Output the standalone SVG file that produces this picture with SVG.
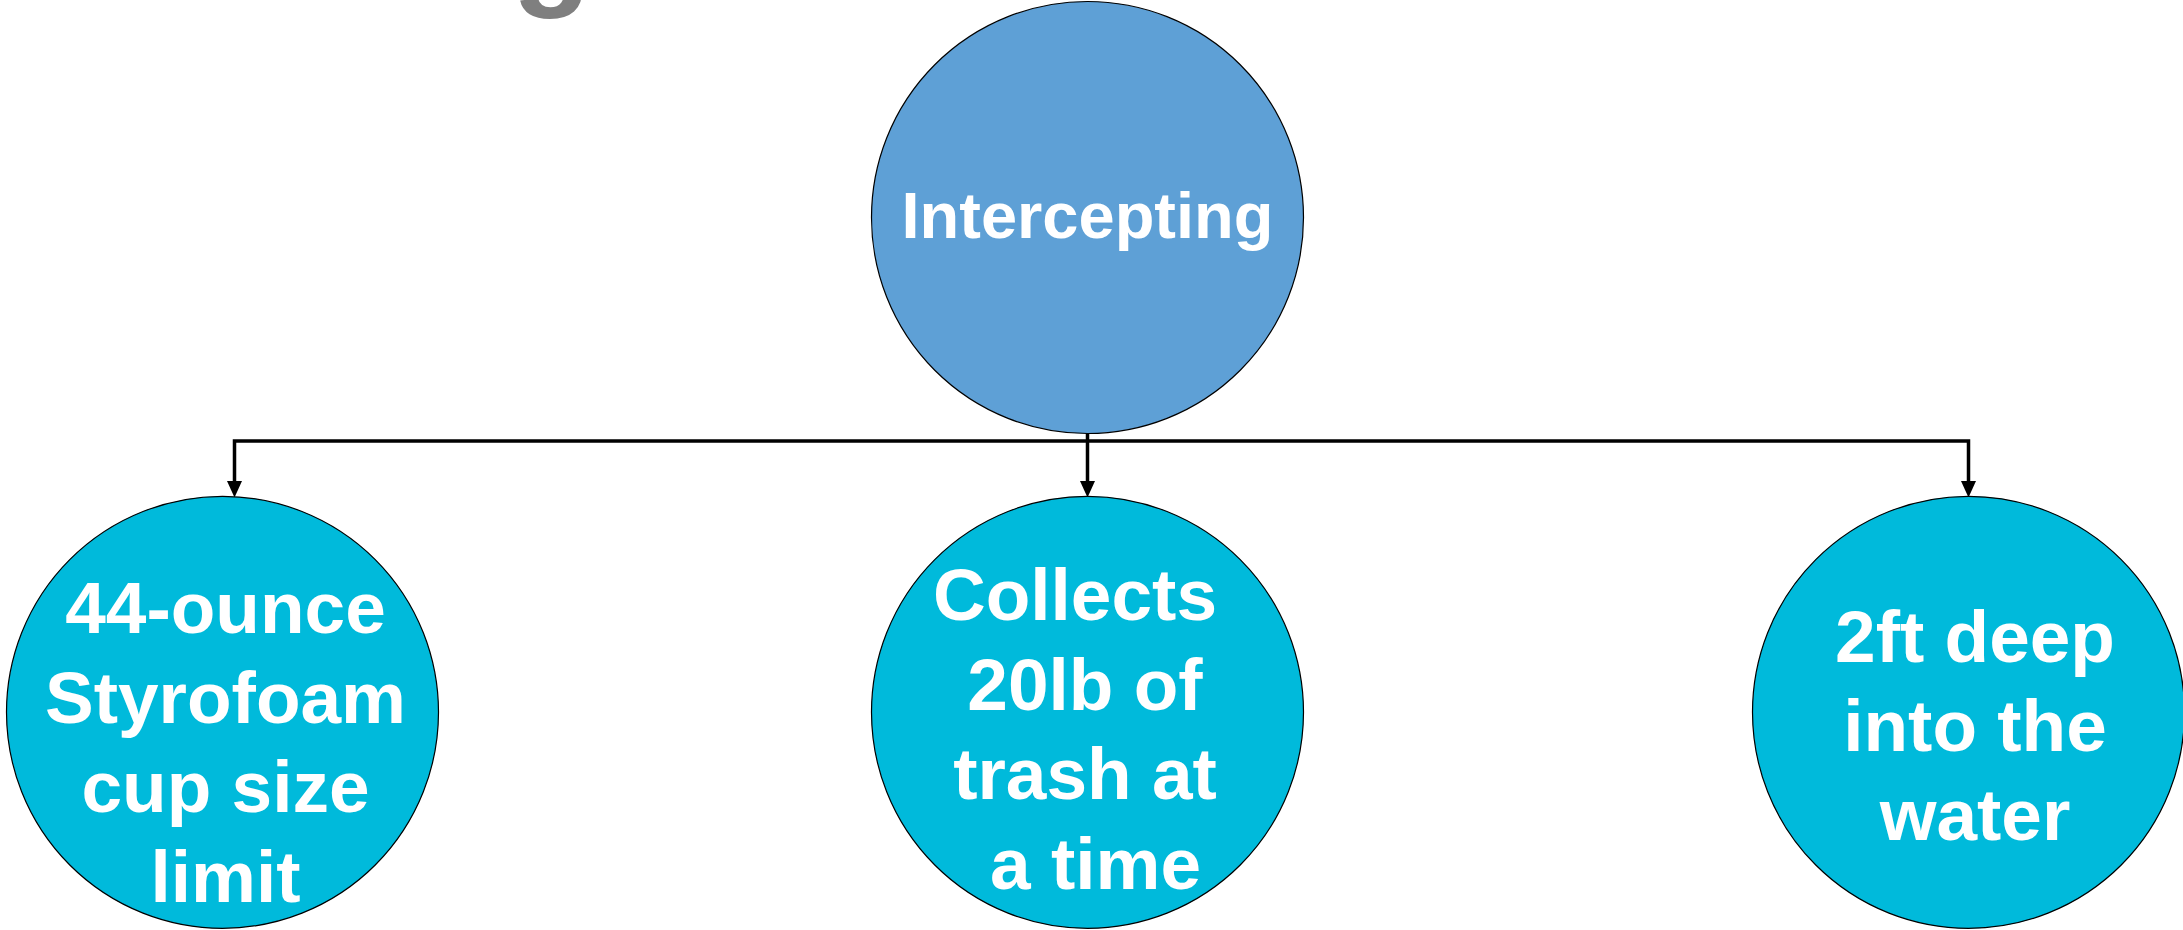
<svg xmlns="http://www.w3.org/2000/svg" width="2183" height="930" viewBox="0 0 2183 930">
<style>
.node{stroke:#000;stroke-width:1.2}
.top{fill:#5EA0D6}
.sub{fill:#00BADB}
.lbl{font-family:"Liberation Sans",Arial,sans-serif;font-weight:bold;fill:#fff;text-anchor:middle}
.conn{fill:none;stroke:#000;stroke-width:3.5}
</style>
<defs>
<marker id="arrd" markerUnits="userSpaceOnUse" markerWidth="16" markerHeight="17" refX="8" refY="0" orient="0" viewBox="0 0 16 17" overflow="visible">
<path d="M0.5 0 L15.5 0 L8 16.5 Z" fill="#000"/>
</marker>
</defs>
<text x="512" y="-9" font-family="Liberation Sans,Arial,sans-serif" font-weight="bold" font-size="130" fill="#7F7F7F">g</text>
<g id="connectors">
<path class="conn" d="M1087.5 433 V481" marker-end="url(#arrd)"/>
<path class="conn" d="M1087.5 441 H234.5 V481" marker-end="url(#arrd)"/>
<path class="conn" d="M1087.5 441 H1968.5 V481" marker-end="url(#arrd)"/>
</g>
<g id="node-intercepting">
<circle class="node top" cx="1087.5" cy="217.5" r="216"/>
<text class="lbl" x="1087.5" y="238" font-size="65">Intercepting</text>
</g>
<g id="node-cup">
<circle class="node sub" cx="222.5" cy="712.3" r="216"/>
<text class="lbl" font-size="73"><tspan x="225.5" y="632.5">44-ounce</tspan><tspan x="225.5" y="722.5">Styrofoam</tspan><tspan x="225.5" y="811.5">cup size</tspan><tspan x="225.5" y="901.5">limit</tspan></text>
</g>
<g id="node-collects">
<circle class="node sub" cx="1087.5" cy="712.3" r="216"/>
<text class="lbl" font-size="73"><tspan x="1075" y="620">Collects</tspan><tspan x="1085" y="709.5">20lb of</tspan><tspan x="1085" y="799">trash at</tspan><tspan x="1095.5" y="888.5">a time</tspan></text>
</g>
<g id="node-deep">
<circle class="node sub" cx="1968.5" cy="712.3" r="216"/>
<text class="lbl" font-size="73"><tspan x="1975" y="661.5">2ft deep</tspan><tspan x="1975" y="750.5">into the</tspan><tspan x="1975" y="840">water</tspan></text>
</g>
</svg>
